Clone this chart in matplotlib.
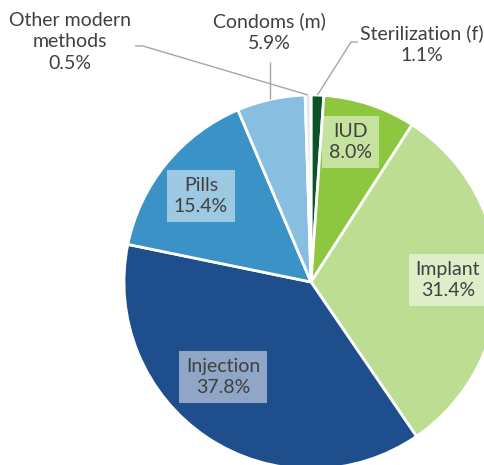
import numpy as np
import matplotlib
matplotlib.use("Agg")
import matplotlib.pyplot as plt

# Data
methods = ["Sterilization (f)", "IUD", "Implant", "Injection", "Pills",
           "Condoms (m)", "Other modern\nmethods"]
shares = [1.1, 8.0, 31.4, 37.8, 15.4, 5.9, 0.5]
colors = ["#0B5326", "#8DC63F", "#BDDE92", "#1F4E8D", "#3A92C6",
          "#88BEDF", "#DCEAF6"]

W, H = 485, 465
plt.rcParams["font.family"] = ["Lato", "DejaVu Sans"]

fig = plt.figure(figsize=(W / 100, H / 100), dpi=100)
ax = fig.add_axes([0, 0, 1, 1])

# pie centre/radius in pixels (y measured from bottom)
cx, cy, r = 311, H - 282, 187
wedges, _ = ax.pie(shares, colors=colors, startangle=90, counterclock=False,
                   center=(cx, cy), radius=r, normalize=True,
                   wedgeprops=dict(edgecolor="white", linewidth=2))

txt_color = "#404040"
fs = 14
ls = 1.3
box = dict(facecolor="white", alpha=0.5, edgecolor="none", pad=5)


def lbl(i):
    return f"{methods[i]}\n{shares[i]:.1f}%"


# inside labels (pixel positions, y from top)
inside = {1: (351, 142), 2: (448, 280), 3: (223, 377), 4: (201, 196)}
for i, (x, y) in inside.items():
    ax.text(x, H - y, lbl(i), ha="center", va="center", fontsize=fs,
            color=txt_color, bbox=box, linespacing=ls)


def edge_pt(i, frac=0.5):
    w = wedges[i]
    th = np.radians(w.theta1 + (w.theta2 - w.theta1) * frac)
    return cx + r * np.cos(th), cy + r * np.sin(th)


line_kw = dict(color="#A6A6A6", lw=1, solid_capstyle="butt")

# outside labels with leader lines
ax.text(70, H - 42, lbl(6), ha="center", va="center", fontsize=fs,
        color=txt_color, linespacing=ls)
px, py = edge_pt(6)
ax.plot([135, 143, px], [H - 46, H - 46, py], **line_kw)

ax.text(269, H - 32, lbl(5), ha="center", va="center", fontsize=fs,
        color=txt_color, linespacing=ls)
px, py = edge_pt(5)
ax.plot([270, 270], [H - 62, py], **line_kw)

ax.text(422, H - 44, lbl(0), ha="center", va="center", fontsize=fs,
        color=txt_color, linespacing=ls)
px, py = edge_pt(0)
ax.plot([358, 351, px], [H - 42, H - 42, py], **line_kw)

ax.set_xlim(0, W)
ax.set_ylim(0, H)
ax.set_aspect("auto")
ax.axis("off")

fig.savefig("out.png", dpi=100)
